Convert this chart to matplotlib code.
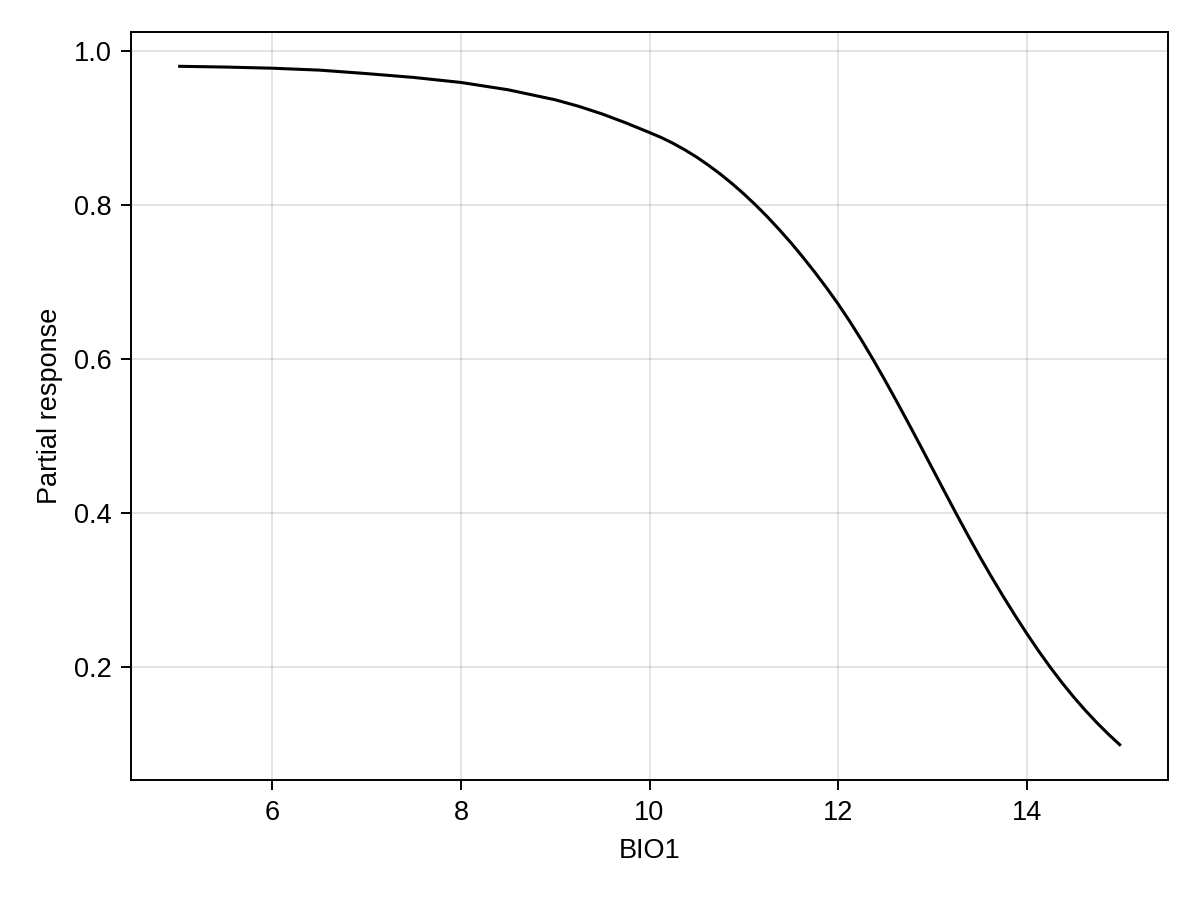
import matplotlib
matplotlib.use("Agg")
import matplotlib.pyplot as plt

bio1 = [5.0, 5.5, 6.0, 6.5, 7.0, 7.5, 8.0, 8.5, 9.0, 9.25, 9.5, 9.75,
        10.0, 10.125, 10.25, 10.375, 10.5, 10.625, 10.75, 10.875, 11.0,
        11.125, 11.25, 11.375, 11.5, 11.625, 11.75, 11.875, 12.0, 12.125,
        12.25, 12.375, 12.5, 12.625, 12.75, 12.875, 13.0, 13.125, 13.25,
        13.375, 13.5, 13.625, 13.75, 13.875, 14.0, 14.125, 14.25, 14.375,
        14.5, 14.625, 14.75, 14.875, 15.0]
response = [0.980, 0.979, 0.9775, 0.975, 0.9705, 0.9655, 0.959, 0.9495, 0.9365,
            0.928, 0.918, 0.9065, 0.894, 0.8875, 0.8800, 0.8715, 0.8621, 0.8516,
            0.8402, 0.8278, 0.8144, 0.8000, 0.7846, 0.7682, 0.7509, 0.7325,
            0.7132, 0.6929, 0.6716, 0.6487, 0.6244, 0.5987, 0.5719, 0.5442,
            0.5159, 0.4871, 0.4580, 0.4289, 0.4000, 0.3717, 0.3442, 0.3177,
            0.2922, 0.2676, 0.2440, 0.2214, 0.2000, 0.1799, 0.1611, 0.1436,
            0.1273, 0.1121, 0.0980]
xticks = [6, 8, 10, 12, 14]
yticks = [0.2, 0.4, 0.6, 0.8, 1.0]

plt.rcParams['font.family'] = ['Liberation Sans', 'DejaVu Sans']

fig = plt.figure(figsize=(12, 9), dpi=100)
ax = fig.add_axes([131/1200, 1 - 780/900, (1168 - 131)/1200, (780 - 32)/900])

ax.plot(bio1, response, color='black', lw=2.2, solid_capstyle='butt',
        solid_joinstyle='round')

ax.set_xlim(4.5, 15.5)
ax.set_ylim(0.0535, 1.0245)
ax.set_xticks(xticks)
ax.set_xticklabels([str(t) for t in xticks])
ax.set_yticks(yticks)
ax.set_yticklabels([f"{t:.1f}" for t in yticks])

ax.grid(True, color='black', alpha=0.11, lw=1.4)
ax.set_axisbelow(True)
for s in ax.spines.values():
    s.set_linewidth(1.4)
    s.set_color('black')

ax.tick_params(axis='both', direction='out', length=7.2, width=1.4,
               labelsize=19.5, color='black')
ax.tick_params(axis='x', pad=7)
ax.tick_params(axis='y', pad=6.5)
ax.set_xlabel('BIO1', fontsize=19.5, labelpad=9)
ax.set_ylabel('Partial response', fontsize=19.5, labelpad=8)

fig.savefig('out.png', dpi=100)
